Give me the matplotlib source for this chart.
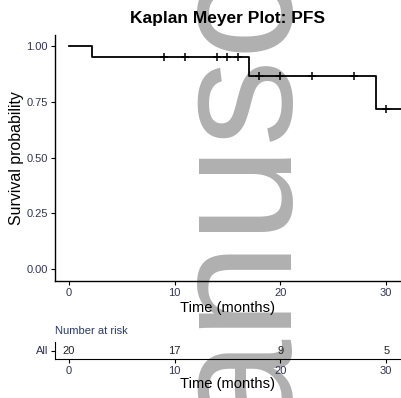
import numpy as np
import matplotlib
matplotlib.use("Agg")
import matplotlib.pyplot as plt

plt.rcParams['font.family'] = ['Liberation Sans', 'DejaVu Sans']

# Kaplan-Meier step curve (PFS)
step_times = [0, 2.2, 17, 29, 32]
step_surv = [1.0, 0.95, 0.864, 0.72, 0.72]

# censored observations
censor_times = [9, 11, 14, 15, 16, 18, 20, 23, 27, 30]
censor_surv = [0.95, 0.95, 0.95, 0.95, 0.95, 0.864, 0.864, 0.864, 0.864, 0.72]

# number at risk
risk_times = [0, 10, 20, 30]
risk_n = [20, 17, 9, 5]

x_ticks = [0, 10, 20, 30]
y_ticks = [0.0, 0.25, 0.5, 0.75, 1.0]
y_ticklabels = ["0.00", "0.25", "0.50", "0.75", "1.00"]

tick_col = "#333355"

fig = plt.figure(figsize=(4.01, 3.98), dpi=100)
W, H = 401, 398

def box(l, t, r, b):
    return [l / W, 1 - b / H, (r - l) / W, (b - t) / H]

# watermark behind everything
fig.text(278 / W, -0.42, "Manuscript", rotation=90, rotation_mode='anchor',
         ha='left', va='baseline', fontsize=125, color='#b0b0b0', zorder=-1)

ax = fig.add_axes(box(55, 35, 401, 281))
ax.patch.set_alpha(0)
ax.step(step_times, step_surv, where='post', color='black', lw=1.3)
ax.plot(censor_times, censor_surv, '+', color='black', ms=6, mew=1.1)
ax.set_xlim(-1.3, 31.4)
ax.set_ylim(-0.054, 1.05)
ax.set_xticks(x_ticks)
ax.set_yticks(y_ticks)
ax.set_yticklabels(y_ticklabels)
for s in ['top', 'right']:
    ax.spines[s].set_visible(False)
for s in ['left', 'bottom']:
    ax.spines[s].set_linewidth(1.0)
ax.tick_params(labelsize=8, length=3, width=0.8, pad=2, labelcolor=tick_col)
ax.set_xlabel("Time (months)", fontsize=10.6, labelpad=2)
ax.set_ylabel("Survival probability", fontsize=11.4, labelpad=2)
ax.set_title("Kaplan Meyer Plot: PFS", fontsize=12.5, fontweight='bold', pad=8.5)

# risk table
rt = fig.add_axes(box(55, 342, 401, 359))
rt.patch.set_alpha(0)
rt.set_xlim(-1.3, 31.4)
rt.set_ylim(0.5, 1.5)
for t, n in zip(risk_times, risk_n):
    rt.text(t, 1, str(n), ha='center', va='center', fontsize=8, color='#222222')
rt.set_xticks(x_ticks)
rt.set_yticks([1])
rt.set_yticklabels(["All"])
for s in ['top', 'right']:
    rt.spines[s].set_visible(False)
rt.tick_params(labelsize=8, length=3, width=0.8, pad=2, labelcolor=tick_col)
rt.set_xlabel("Time (months)", fontsize=10.6, labelpad=0.5)
fig.text(55 / W, 1 - 331 / H, "Number at risk", fontsize=8, color='#2a3a6a',
         ha='left', va='center')

fig.savefig("out.png", dpi=100)
